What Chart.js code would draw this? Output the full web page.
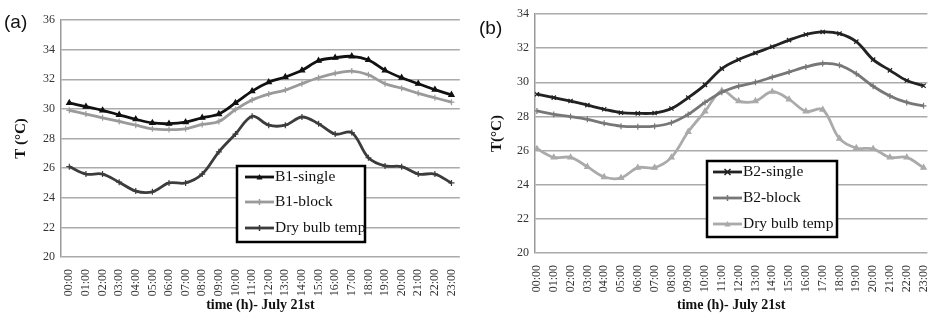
<!DOCTYPE html>
<html>
<head>
<meta charset="utf-8">
<script src="https://cdn.jsdelivr.net/npm/chart.js@4.4.1/dist/chart.umd.min.js"></script>
<style>
  body { margin: 0; background: #fff; }
  .panel { position: absolute; top: 0; height: 316px; }
  #wrapA { left: 0; width: 470px; }
  #wrapB { left: 470px; width: 472px; }
</style>
</head>
<body>
<div class="panel" id="wrapA"><canvas id="chartA" width="470" height="316"></canvas></div>
<div class="panel" id="wrapB"><canvas id="chartB" width="472" height="316"></canvas></div>
<script>
const hours = ["00:00","01:00","02:00","03:00","04:00","05:00","06:00","07:00","08:00","09:00","10:00","11:00",
  "12:00","13:00","14:00","15:00","16:00","17:00","18:00","19:00","20:00","21:00","22:00","23:00"];

const b1Single = [30.4,30.15,29.9,29.6,29.3,29.05,29.0,29.1,29.4,29.65,30.4,31.2,
  31.8,32.15,32.6,33.25,33.45,33.55,33.3,32.6,32.1,31.7,31.3,30.95];
const b1Block = [29.9,29.65,29.4,29.15,28.9,28.65,28.6,28.65,28.95,29.15,29.95,30.6,
  31.0,31.27,31.7,32.1,32.4,32.55,32.3,31.7,31.4,31.05,30.75,30.45];
const b2Single = [29.3,29.1,28.9,28.66,28.42,28.22,28.18,28.2,28.46,29.1,29.85,30.8,
  31.33,31.72,32.08,32.47,32.8,32.95,32.85,32.38,31.33,30.7,30.1,29.8];
const b2Block = [28.32,28.12,27.99,27.83,27.6,27.43,27.4,27.43,27.63,28.12,28.82,29.41,
  29.77,30.0,30.3,30.6,30.9,31.1,31.0,30.5,29.77,29.2,28.82,28.62];
const dryBulb = [26.1,25.6,25.6,25.05,24.45,24.4,25.0,25.0,25.6,27.1,28.3,29.5,
  28.9,28.9,29.45,29.0,28.3,28.4,26.7,26.15,26.1,25.6,25.6,25.0];

const SERIF = "'Liberation Serif', 'Times New Roman', serif";

function pts(values) {
  return values.map((v, i) => ({ x: i, y: v }));
}

function drawMarker(ctx, style, x, y, r, color) {
  ctx.save();
  ctx.strokeStyle = color;
  ctx.fillStyle = color;
  ctx.lineWidth = 1.5;
  ctx.beginPath();
  if (style === "triangle") {
    ctx.moveTo(x, y - r);
    ctx.lineTo(x + r, y + r * 0.8);
    ctx.lineTo(x - r, y + r * 0.8);
    ctx.closePath();
    ctx.fill();
  } else if (style === "crossRot") {
    ctx.moveTo(x - r, y - r); ctx.lineTo(x + r, y + r);
    ctx.moveTo(x + r, y - r); ctx.lineTo(x - r, y + r);
    ctx.stroke();
  } else {
    ctx.moveTo(x, y - r); ctx.lineTo(x, y + r);
    ctx.moveTo(x - r, y); ctx.lineTo(x + r, y);
    ctx.stroke();
  }
  ctx.restore();
}

// legend box drawn inside the plot, plus the (a)/(b) tag
const boxLegend = {
  id: "boxLegend",
  afterDraw(chart, args, opts) {
    const ctx = chart.ctx;
    const b = opts.box;
    ctx.save();
    ctx.fillStyle = "#fff";
    ctx.fillRect(b.x, b.y, b.w, b.h);
    ctx.strokeStyle = "#000";
    ctx.lineWidth = 2.5;
    ctx.strokeRect(b.x, b.y, b.w, b.h);
    ctx.font = "15.5px " + SERIF;
    ctx.textBaseline = "middle";
    chart.data.datasets.forEach((ds, i) => {
      const y = opts.rows[i];
      ctx.strokeStyle = ds.borderColor;
      ctx.lineWidth = ds.borderWidth;
      ctx.beginPath();
      ctx.moveTo(opts.lineX0, y);
      ctx.lineTo(opts.lineX1, y);
      ctx.stroke();
      drawMarker(ctx, ds.pointStyle, (opts.lineX0 + opts.lineX1) / 2, y, ds.pointRadius, ds.borderColor);
      ctx.fillStyle = "#111";
      ctx.fillText(ds.label, opts.lineX1 + 1, y);
    });
    ctx.font = "19px 'Liberation Sans', Arial, sans-serif";
    ctx.fillStyle = "#111";
    ctx.textBaseline = "alphabetic";
    ctx.fillText(opts.tag, opts.tagX, opts.tagY);
    ctx.restore();
  }
};

function makePanel(id, cfg) {
  new Chart(document.getElementById(id), {
    type: "line",
    data: {
      datasets: cfg.series.map(s => ({
        label: s.label,
        data: pts(s.values),
        borderColor: s.color,
        backgroundColor: s.color,
        borderWidth: 2.8,
        pointStyle: s.marker,
        pointRadius: 3,
        pointBorderWidth: 1.2,
        tension: 0.35,
        fill: false
      }))
    },
    options: {
      responsive: false,
      animation: false,
      layout: { padding: { top: cfg.top, right: cfg.right, left: 0, bottom: 0 } },
      plugins: {
        legend: { display: false },
        tooltip: { enabled: false },
        boxLegend: cfg.legend
      },
      scales: {
        x: {
          type: "linear",
          min: cfg.xMin,
          max: cfg.xMax,
          afterBuildTicks: s => { s.ticks = hours.map((h, i) => ({ value: i })); },
          afterFit: s => { s.height = cfg.xHeight; },
          grid: { display: false },
          border: { display: false },
          ticks: {
            autoSkip: false,
            minRotation: 90,
            maxRotation: 90,
            padding: 4,
            color: "#333",
            font: { family: SERIF, size: 12 },
            callback: v => hours[v]
          },
          title: {
            display: true,
            text: "time (h)- July 21st",
            color: "#111",
            font: { family: SERIF, size: 14, weight: "bold" },
            padding: { top: 0, bottom: 2 }
          }
        },
        y: {
          min: 20,
          max: cfg.yMax,
          afterFit: s => { s.width = cfg.yWidth; },
          ticks: {
            stepSize: 2,
            padding: 6,
            color: "#333",
            font: { family: SERIF, size: 12 }
          },
          grid: { color: "#aaa", lineWidth: 1.5, drawTicks: false },
          border: { color: "#999", width: 1.5 },
          title: {
            display: true,
            text: cfg.yTitle,
            color: "#111",
            font: { family: SERIF, size: 15, weight: "bold" },
            padding: { top: cfg.yTitlePad, bottom: 0 }
          }
        }
      }
    },
    plugins: [boxLegend]
  });
}

makePanel("chartA", {
  top: 20, right: 1, yMax: 36, yWidth: 61, xHeight: 59,
  xMin: -0.5, xMax: 23.5, yTitle: "T (°C)", yTitlePad: 12,
  series: [
    { label: "B1-single", values: b1Single, color: "#111", marker: "triangle" },
    { label: "B1-block", values: b1Block, color: "#9a9a9a", marker: "cross" },
    { label: "Dry bulb temp", values: dryBulb, color: "#3c3c3c", marker: "cross" }
  ],
  legend: {
    box: { x: 237, y: 166, w: 128, h: 76 },
    rows: [177, 202, 228], lineX0: 245, lineX1: 274,
    tag: "(a)", tagX: 4, tagY: 28
  }
});

makePanel("chartB", {
  top: 14, right: 0, yMax: 34, yWidth: 65, xHeight: 63,
  xMin: -0.115, xMax: 23.23, yTitle: "T(°C)", yTitlePad: 18,
  series: [
    { label: "B2-single", values: b2Single, color: "#222", marker: "crossRot" },
    { label: "B2-block", values: b2Block, color: "#777", marker: "cross" },
    { label: "Dry bulb temp", values: dryBulb, color: "#aaa", marker: "triangle" }
  ],
  legend: {
    box: { x: 237, y: 161, w: 130, h: 76 },
    rows: [172, 198, 224], lineX0: 243, lineX1: 272,
    tag: "(b)", tagX: 9, tagY: 34
  }
});
</script>
</body>
</html>
